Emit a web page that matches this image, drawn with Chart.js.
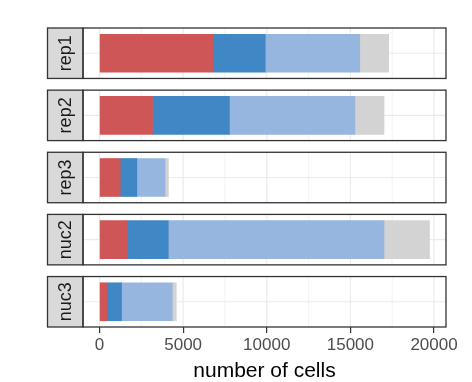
<!DOCTYPE html>
<html>
<head>
<meta charset="utf-8">
<title>cells per sample</title>
<script src="https://cdn.jsdelivr.net/npm/chart.js@4.4.1/dist/chart.umd.min.js"></script>
<style>
  html, body { margin: 0; padding: 0; background: #fff; }
  #wrap { width: 472px; height: 382px; }
</style>
</head>
<body>
<div id="wrap"><canvas id="cellChart" width="472" height="382"></canvas></div>
<script>
// samples, one panel each (top to bottom)
const samples = ['rep1', 'rep2', 'rep3', 'nuc2', 'nuc3'];
// cell counts, stacked left to right
const groupRed = [6800, 3170, 1240, 1640, 450];
const groupBlue = [3110, 4600, 990, 2470, 870];
const groupLight = [5650, 7500, 1690, 12900, 3030];
const groupGrey = [1730, 1740, 200, 2720, 240];
const xTicks = [0, 5000, 10000, 15000, 20000];

const FONT = "'Liberation Sans', Arial, Helvetica, sans-serif";
const panelHalf = 0.406;   // half panel height in index units

const totals = samples.map((s, i) => groupRed[i] + groupBlue[i] + groupLight[i] + groupGrey[i]);
const topTotal = Math.max(...totals);

// minor grid lines sit half way between the major ticks
const minorTicks = xTicks.slice(1).map((v, i) => (v + xTicks[i]) / 2);

function series(label, values, color) {
    return {
        label: label,
        data: values.map((v, i) => ({ x: v, y: i })),
        backgroundColor: color,
        borderWidth: 0,
        barThickness: 38
    };
}

// draws the facet panels: grid behind the bars, frame and strip on top
const facets = {
    id: 'facets',
    beforeDatasetsDraw(chart) {
        const { ctx, chartArea: a, scales: { x, y } } = chart;
        samples.forEach((s, i) => {
            const top = y.getPixelForValue(i - panelHalf);
            const bot = y.getPixelForValue(i + panelHalf);
            ctx.save();
            ctx.beginPath();
            ctx.rect(a.left, top, a.right - a.left, bot - top);
            ctx.clip();
            ctx.strokeStyle = '#EBEBEB';
            ctx.lineWidth = 0.6;
            minorTicks.forEach(v => {
                const px = x.getPixelForValue(v);
                ctx.beginPath(); ctx.moveTo(px, top); ctx.lineTo(px, bot); ctx.stroke();
            });
            ctx.lineWidth = 1.2;
            xTicks.forEach(v => {
                const px = x.getPixelForValue(v);
                ctx.beginPath(); ctx.moveTo(px, top); ctx.lineTo(px, bot); ctx.stroke();
            });
            const cy = y.getPixelForValue(i);
            ctx.beginPath(); ctx.moveTo(a.left, cy); ctx.lineTo(a.right, cy); ctx.stroke();
            ctx.restore();
        });
    },
    afterDatasetsDraw(chart) {
        const { ctx, chartArea: a, scales: { y } } = chart;
        const stripLeft = 47.5;
        samples.forEach((s, i) => {
            const top = y.getPixelForValue(i - panelHalf);
            const bot = y.getPixelForValue(i + panelHalf);
            ctx.save();
            ctx.fillStyle = '#D9D9D9';
            ctx.fillRect(stripLeft, top, a.left - stripLeft, bot - top);
            ctx.strokeStyle = '#333333';
            ctx.lineWidth = 1.3;
            ctx.strokeRect(stripLeft, top, a.left - stripLeft, bot - top);
            ctx.strokeRect(a.left, top, a.right - a.left, bot - top);
            ctx.translate((stripLeft + a.left) / 2 + 1, (top + bot) / 2);
            ctx.rotate(-Math.PI / 2);
            ctx.fillStyle = '#1A1A1A';
            ctx.font = '18px ' + FONT;
            ctx.textAlign = 'center';
            ctx.textBaseline = 'middle';
            ctx.fillText(s, 0, 0);
            ctx.restore();
        });
    }
};

const chart = new Chart(document.getElementById('cellChart'), {
    type: 'bar',
    data: {
        datasets: [
            series('a', groupRed, '#CF5657'),
            series('b', groupBlue, '#3F87C5'),
            series('c', groupLight, '#96B5DF'),
            series('d', groupGrey, '#D3D3D3')
        ]
    },
    options: {
        indexAxis: 'y',
        responsive: false,
        animation: false,
        layout: { padding: { left: 83, right: 26, top: 28, bottom: 0 } },
        plugins: { legend: { display: false }, tooltip: { enabled: false } },
        scales: {
            x: {
                type: 'linear',
                stacked: true,
                min: -0.05 * topTotal,
                max: 1.05 * topTotal,
                afterBuildTicks: scale => { scale.ticks = xTicks.map(v => ({ value: v })); },
                afterFit: scale => { scale.height = 55; },
                grid: { display: true, drawOnChartArea: false, drawTicks: true, tickLength: 6, color: '#333333', lineWidth: 1.2 },
                border: { display: false },
                ticks: {
                    color: '#4D4D4D',
                    font: { family: FONT, size: 17 },
                    padding: 2,
                    maxRotation: 0,
                    autoSkip: false,
                    callback: v => String(v)
                },
                title: {
                    display: true,
                    text: 'number of cells',
                    color: '#000000',
                    font: { family: FONT, size: 21, lineHeight: 1 },
                    padding: { top: 0, bottom: 0 }
                }
            },
            y: {
                type: 'linear',
                stacked: true,
                reverse: true,
                display: false,
                offset: false,
                bounds: 'data',
                min: -panelHalf,
                max: samples.length - 1 + panelHalf,
                afterBuildTicks: scale => {
                    scale.min = -panelHalf;
                    scale.max = samples.length - 1 + panelHalf;
                }
            }
        }
    },
    plugins: [facets]
});
</script>
</body>
</html>
